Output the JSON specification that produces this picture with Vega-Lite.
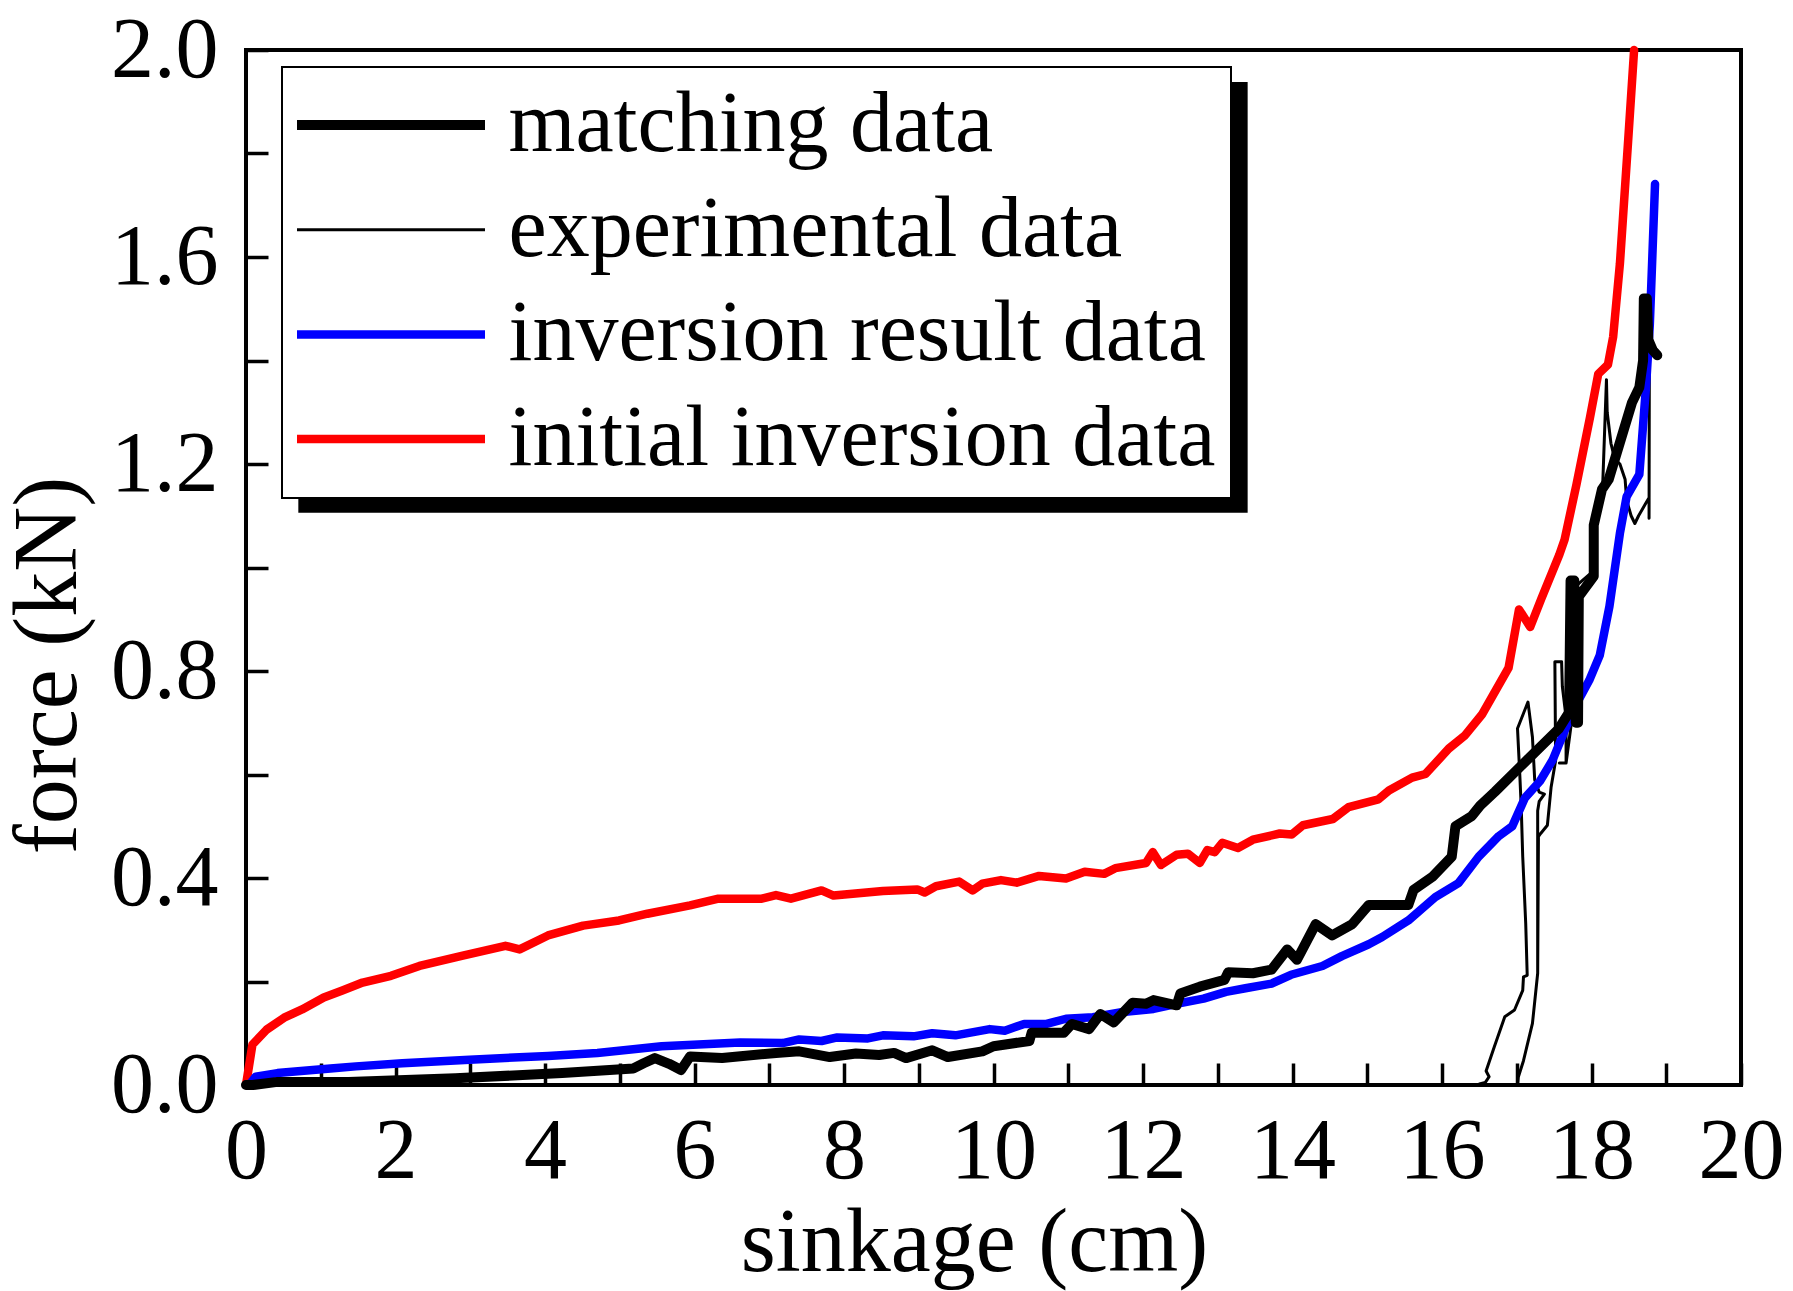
{
  "$schema": "https://vega.github.io/schema/vega-lite/v6.json",
  "description": "force vs sinkage: matching, experimental, inversion result and initial inversion data",
  "width": 1495,
  "height": 1035,
  "autosize": {"type": "none"},
  "padding": {"left": 246, "top": 50, "right": 52, "bottom": 206},
  "background": "white",
  "config": {
    "font": "Liberation Serif",
    "view": {"stroke": "black", "strokeWidth": 4},
    "axis": {
      "labelFont": "Liberation Serif", "labelFontSize": 86, "labelColor": "black",
      "titleFont": "Liberation Serif", "titleFontSize": 90, "titleFontWeight": "normal", "titleColor": "black",
      "tickColor": "black", "tickWidth": 3.5, "tickSize": -22,
      "grid": false, "domain": false, "labelFlush": false, "labelOverlap": false
    },
    "legend": {
      "fillColor": "white", "strokeColor": "black", "strokeWidth": 2,
      "padding": 15, "rowPadding": 18.7, "clipHeight": 86,
      "labelFont": "Liberation Serif", "labelFontSize": 86, "labelColor": "black", "labelLimit": 2000,
      "labelOffset": 18.5, "symbolType": "stroke", "symbolSize": 36864, "symbolOffset": -9
    }
  },
  "data": {
    "values": [
      {"s": "matching data", "x": 0, "y": 0},
      {"s": "matching data", "x": 0.09, "y": 0},
      {"s": "matching data", "x": 0.42, "y": 0.006},
      {"s": "matching data", "x": 1.37, "y": 0.006},
      {"s": "matching data", "x": 2.8, "y": 0.013},
      {"s": "matching data", "x": 4.23, "y": 0.023},
      {"s": "matching data", "x": 5.18, "y": 0.032},
      {"s": "matching data", "x": 5.32, "y": 0.042},
      {"s": "matching data", "x": 5.47, "y": 0.052},
      {"s": "matching data", "x": 5.66, "y": 0.041},
      {"s": "matching data", "x": 5.82, "y": 0.029},
      {"s": "matching data", "x": 5.94, "y": 0.055},
      {"s": "matching data", "x": 6.37, "y": 0.052},
      {"s": "matching data", "x": 7.09, "y": 0.062},
      {"s": "matching data", "x": 7.4, "y": 0.065},
      {"s": "matching data", "x": 7.81, "y": 0.054},
      {"s": "matching data", "x": 8.16, "y": 0.061},
      {"s": "matching data", "x": 8.47, "y": 0.058},
      {"s": "matching data", "x": 8.67, "y": 0.062},
      {"s": "matching data", "x": 8.83, "y": 0.052},
      {"s": "matching data", "x": 9.18, "y": 0.067},
      {"s": "matching data", "x": 9.39, "y": 0.054},
      {"s": "matching data", "x": 9.85, "y": 0.065},
      {"s": "matching data", "x": 10.0, "y": 0.075},
      {"s": "matching data", "x": 10.48, "y": 0.085},
      {"s": "matching data", "x": 10.51, "y": 0.101},
      {"s": "matching data", "x": 10.94, "y": 0.101},
      {"s": "matching data", "x": 11.05, "y": 0.118},
      {"s": "matching data", "x": 11.28, "y": 0.108},
      {"s": "matching data", "x": 11.43, "y": 0.137},
      {"s": "matching data", "x": 11.61, "y": 0.121},
      {"s": "matching data", "x": 11.86, "y": 0.159},
      {"s": "matching data", "x": 12.04, "y": 0.157},
      {"s": "matching data", "x": 12.14, "y": 0.164},
      {"s": "matching data", "x": 12.45, "y": 0.154},
      {"s": "matching data", "x": 12.5, "y": 0.177},
      {"s": "matching data", "x": 12.76, "y": 0.19},
      {"s": "matching data", "x": 13.09, "y": 0.203},
      {"s": "matching data", "x": 13.14, "y": 0.218},
      {"s": "matching data", "x": 13.47, "y": 0.216},
      {"s": "matching data", "x": 13.72, "y": 0.223},
      {"s": "matching data", "x": 13.93, "y": 0.262},
      {"s": "matching data", "x": 14.06, "y": 0.242},
      {"s": "matching data", "x": 14.31, "y": 0.311},
      {"s": "matching data", "x": 14.53, "y": 0.289},
      {"s": "matching data", "x": 14.8, "y": 0.311},
      {"s": "matching data", "x": 15.02, "y": 0.348},
      {"s": "matching data", "x": 15.55, "y": 0.348},
      {"s": "matching data", "x": 15.62, "y": 0.377},
      {"s": "matching data", "x": 15.87, "y": 0.402},
      {"s": "matching data", "x": 16.13, "y": 0.441},
      {"s": "matching data", "x": 16.18, "y": 0.5},
      {"s": "matching data", "x": 16.4, "y": 0.52},
      {"s": "matching data", "x": 16.51, "y": 0.54},
      {"s": "matching data", "x": 16.71, "y": 0.567},
      {"s": "matching data", "x": 17.56, "y": 0.688},
      {"s": "matching data", "x": 17.7, "y": 0.72},
      {"s": "matching data", "x": 17.72, "y": 0.975},
      {"s": "matching data", "x": 17.77, "y": 0.975},
      {"s": "matching data", "x": 17.79, "y": 0.7},
      {"s": "matching data", "x": 17.82, "y": 0.7},
      {"s": "matching data", "x": 17.83, "y": 0.944},
      {"s": "matching data", "x": 18.03, "y": 0.983},
      {"s": "matching data", "x": 18.03, "y": 1.082},
      {"s": "matching data", "x": 18.14, "y": 1.151},
      {"s": "matching data", "x": 18.23, "y": 1.17},
      {"s": "matching data", "x": 18.54, "y": 1.318},
      {"s": "matching data", "x": 18.64, "y": 1.348},
      {"s": "matching data", "x": 18.69, "y": 1.4},
      {"s": "matching data", "x": 18.7, "y": 1.52},
      {"s": "matching data", "x": 18.74, "y": 1.52},
      {"s": "matching data", "x": 18.76, "y": 1.44},
      {"s": "matching data", "x": 18.82, "y": 1.42},
      {"s": "matching data", "x": 18.88, "y": 1.41},

      {"s": "experimental data", "x": 16.5, "y": 0.002},
      {"s": "experimental data", "x": 16.58, "y": 0.005},
      {"s": "experimental data", "x": 16.63, "y": 0.016},
      {"s": "experimental data", "x": 16.59, "y": 0.027},
      {"s": "experimental data", "x": 16.7, "y": 0.074},
      {"s": "experimental data", "x": 16.84, "y": 0.132},
      {"s": "experimental data", "x": 16.97, "y": 0.145},
      {"s": "experimental data", "x": 17.08, "y": 0.183},
      {"s": "experimental data", "x": 17.09, "y": 0.209},
      {"s": "experimental data", "x": 17.14, "y": 0.212},
      {"s": "experimental data", "x": 17.12, "y": 0.312},
      {"s": "experimental data", "x": 17.08, "y": 0.441},
      {"s": "experimental data", "x": 17.06, "y": 0.537},
      {"s": "experimental data", "x": 17.04, "y": 0.602},
      {"s": "experimental data", "x": 17.01, "y": 0.689},
      {"s": "experimental data", "x": 17.15, "y": 0.74},
      {"s": "experimental data", "x": 17.21, "y": 0.672},
      {"s": "experimental data", "x": 17.24, "y": 0.59},
      {"s": "experimental data", "x": 17.3, "y": 0.566},
      {"s": "experimental data", "x": 17.37, "y": 0.562},
      {"s": "experimental data", "x": 17.3, "y": 0.548},
      {"s": "experimental data", "x": 17.28, "y": 0.53},
      {"s": "experimental data", "x": 17.28, "y": 0.216},
      {"s": "experimental data", "x": 17.21, "y": 0.119},
      {"s": "experimental data", "x": 17.09, "y": 0.047},
      {"s": "experimental data", "x": 17.02, "y": 0.015},
      {"s": "experimental data", "x": 17.01, "y": 0},
      {"s": "experimental data", "x": 17.02, "y": 0.015},
      {"s": "experimental data", "x": 17.09, "y": 0.047},
      {"s": "experimental data", "x": 17.21, "y": 0.119},
      {"s": "experimental data", "x": 17.28, "y": 0.216},
      {"s": "experimental data", "x": 17.29, "y": 0.48},
      {"s": "experimental data", "x": 17.32, "y": 0.486},
      {"s": "experimental data", "x": 17.41, "y": 0.502},
      {"s": "experimental data", "x": 17.46, "y": 0.576},
      {"s": "experimental data", "x": 17.52, "y": 0.627},
      {"s": "experimental data", "x": 17.51, "y": 0.818},
      {"s": "experimental data", "x": 17.6, "y": 0.818},
      {"s": "experimental data", "x": 17.61, "y": 0.77},
      {"s": "experimental data", "x": 17.66, "y": 0.71},
      {"s": "experimental data", "x": 17.66, "y": 0.622},
      {"s": "experimental data", "x": 17.57, "y": 0.622},
      {"s": "experimental data", "x": 17.66, "y": 0.622},
      {"s": "experimental data", "x": 17.75, "y": 0.72},
      {"s": "experimental data", "x": 17.76, "y": 0.96},
      {"s": "experimental data", "x": 18.0, "y": 0.99},
      {"s": "experimental data", "x": 18.03, "y": 1.08},
      {"s": "experimental data", "x": 18.15, "y": 1.16},
      {"s": "experimental data", "x": 18.2, "y": 1.363},
      {"s": "experimental data", "x": 18.21, "y": 1.3},
      {"s": "experimental data", "x": 18.26, "y": 1.24},
      {"s": "experimental data", "x": 18.31, "y": 1.21},
      {"s": "experimental data", "x": 18.38, "y": 1.2},
      {"s": "experimental data", "x": 18.45, "y": 1.17},
      {"s": "experimental data", "x": 18.47, "y": 1.13},
      {"s": "experimental data", "x": 18.53, "y": 1.1},
      {"s": "experimental data", "x": 18.58, "y": 1.085},
      {"s": "experimental data", "x": 18.63, "y": 1.1},
      {"s": "experimental data", "x": 18.73, "y": 1.125},
      {"s": "experimental data", "x": 18.77, "y": 1.135},
      {"s": "experimental data", "x": 18.77, "y": 1.095},
      {"s": "experimental data", "x": 18.775, "y": 1.5},

      {"s": "inversion result data", "x": 0, "y": 0},
      {"s": "inversion result data", "x": 0.06, "y": 0.003},
      {"s": "inversion result data", "x": 0.13, "y": 0.016},
      {"s": "inversion result data", "x": 0.42, "y": 0.023},
      {"s": "inversion result data", "x": 1.13, "y": 0.032},
      {"s": "inversion result data", "x": 1.47, "y": 0.036},
      {"s": "inversion result data", "x": 2.09, "y": 0.042},
      {"s": "inversion result data", "x": 2.99, "y": 0.049},
      {"s": "inversion result data", "x": 4.04, "y": 0.056},
      {"s": "inversion result data", "x": 4.7, "y": 0.062},
      {"s": "inversion result data", "x": 5.18, "y": 0.069},
      {"s": "inversion result data", "x": 5.56, "y": 0.075},
      {"s": "inversion result data", "x": 6.61, "y": 0.082},
      {"s": "inversion result data", "x": 7.18, "y": 0.081},
      {"s": "inversion result data", "x": 7.4, "y": 0.088},
      {"s": "inversion result data", "x": 7.7, "y": 0.085},
      {"s": "inversion result data", "x": 7.91, "y": 0.092},
      {"s": "inversion result data", "x": 8.32, "y": 0.09},
      {"s": "inversion result data", "x": 8.52, "y": 0.096},
      {"s": "inversion result data", "x": 8.93, "y": 0.094},
      {"s": "inversion result data", "x": 9.18, "y": 0.1},
      {"s": "inversion result data", "x": 9.49, "y": 0.096},
      {"s": "inversion result data", "x": 9.95, "y": 0.108},
      {"s": "inversion result data", "x": 10.15, "y": 0.105},
      {"s": "inversion result data", "x": 10.41, "y": 0.118},
      {"s": "inversion result data", "x": 10.71, "y": 0.118},
      {"s": "inversion result data", "x": 10.97, "y": 0.128},
      {"s": "inversion result data", "x": 11.33, "y": 0.131},
      {"s": "inversion result data", "x": 11.73, "y": 0.141},
      {"s": "inversion result data", "x": 12.14, "y": 0.147},
      {"s": "inversion result data", "x": 12.45, "y": 0.157},
      {"s": "inversion result data", "x": 12.81, "y": 0.167},
      {"s": "inversion result data", "x": 13.11, "y": 0.18},
      {"s": "inversion result data", "x": 13.37, "y": 0.187},
      {"s": "inversion result data", "x": 13.72, "y": 0.196},
      {"s": "inversion result data", "x": 13.98, "y": 0.213},
      {"s": "inversion result data", "x": 14.4, "y": 0.23},
      {"s": "inversion result data", "x": 14.66, "y": 0.249},
      {"s": "inversion result data", "x": 15.02, "y": 0.272},
      {"s": "inversion result data", "x": 15.2, "y": 0.286},
      {"s": "inversion result data", "x": 15.55, "y": 0.318},
      {"s": "inversion result data", "x": 15.91, "y": 0.363},
      {"s": "inversion result data", "x": 16.22, "y": 0.39},
      {"s": "inversion result data", "x": 16.49, "y": 0.441},
      {"s": "inversion result data", "x": 16.76, "y": 0.481},
      {"s": "inversion result data", "x": 16.94, "y": 0.5},
      {"s": "inversion result data", "x": 17.11, "y": 0.555},
      {"s": "inversion result data", "x": 17.31, "y": 0.587},
      {"s": "inversion result data", "x": 17.48, "y": 0.628},
      {"s": "inversion result data", "x": 17.75, "y": 0.723},
      {"s": "inversion result data", "x": 17.97, "y": 0.782},
      {"s": "inversion result data", "x": 18.11, "y": 0.83},
      {"s": "inversion result data", "x": 18.24, "y": 0.925},
      {"s": "inversion result data", "x": 18.38, "y": 1.066},
      {"s": "inversion result data", "x": 18.47, "y": 1.137},
      {"s": "inversion result data", "x": 18.64, "y": 1.18},
      {"s": "inversion result data", "x": 18.73, "y": 1.351},
      {"s": "inversion result data", "x": 18.78, "y": 1.469},
      {"s": "inversion result data", "x": 18.85, "y": 1.741},

      {"s": "initial inversion data", "x": 0, "y": 0},
      {"s": "initial inversion data", "x": 0.086, "y": 0.078},
      {"s": "initial inversion data", "x": 0.276, "y": 0.107},
      {"s": "initial inversion data", "x": 0.51, "y": 0.13},
      {"s": "initial inversion data", "x": 0.75, "y": 0.146},
      {"s": "initial inversion data", "x": 1.04, "y": 0.169},
      {"s": "initial inversion data", "x": 1.28, "y": 0.182},
      {"s": "initial inversion data", "x": 1.56, "y": 0.198},
      {"s": "initial inversion data", "x": 1.94, "y": 0.211},
      {"s": "initial inversion data", "x": 2.32, "y": 0.23},
      {"s": "initial inversion data", "x": 2.9, "y": 0.25},
      {"s": "initial inversion data", "x": 3.47, "y": 0.269},
      {"s": "initial inversion data", "x": 3.66, "y": 0.262},
      {"s": "initial inversion data", "x": 4.04, "y": 0.289},
      {"s": "initial inversion data", "x": 4.51, "y": 0.308},
      {"s": "initial inversion data", "x": 4.99, "y": 0.318},
      {"s": "initial inversion data", "x": 5.37, "y": 0.331},
      {"s": "initial inversion data", "x": 5.94, "y": 0.347},
      {"s": "initial inversion data", "x": 6.32, "y": 0.36},
      {"s": "initial inversion data", "x": 6.9, "y": 0.36},
      {"s": "initial inversion data", "x": 7.09, "y": 0.367},
      {"s": "initial inversion data", "x": 7.29, "y": 0.36},
      {"s": "initial inversion data", "x": 7.7, "y": 0.376},
      {"s": "initial inversion data", "x": 7.86, "y": 0.366},
      {"s": "initial inversion data", "x": 8.52, "y": 0.375},
      {"s": "initial inversion data", "x": 8.98, "y": 0.378},
      {"s": "initial inversion data", "x": 9.08, "y": 0.372},
      {"s": "initial inversion data", "x": 9.23, "y": 0.384},
      {"s": "initial inversion data", "x": 9.54, "y": 0.393},
      {"s": "initial inversion data", "x": 9.72, "y": 0.376},
      {"s": "initial inversion data", "x": 9.85, "y": 0.389},
      {"s": "initial inversion data", "x": 10.1, "y": 0.396},
      {"s": "initial inversion data", "x": 10.31, "y": 0.391},
      {"s": "initial inversion data", "x": 10.61, "y": 0.404},
      {"s": "initial inversion data", "x": 10.97, "y": 0.399},
      {"s": "initial inversion data", "x": 11.22, "y": 0.412},
      {"s": "initial inversion data", "x": 11.48, "y": 0.408},
      {"s": "initial inversion data", "x": 11.63, "y": 0.419},
      {"s": "initial inversion data", "x": 12.04, "y": 0.429},
      {"s": "initial inversion data", "x": 12.13, "y": 0.45},
      {"s": "initial inversion data", "x": 12.24, "y": 0.425},
      {"s": "initial inversion data", "x": 12.45, "y": 0.445},
      {"s": "initial inversion data", "x": 12.6, "y": 0.447},
      {"s": "initial inversion data", "x": 12.76, "y": 0.429},
      {"s": "initial inversion data", "x": 12.86, "y": 0.454},
      {"s": "initial inversion data", "x": 12.96, "y": 0.45},
      {"s": "initial inversion data", "x": 13.06, "y": 0.468},
      {"s": "initial inversion data", "x": 13.27, "y": 0.458},
      {"s": "initial inversion data", "x": 13.47, "y": 0.474},
      {"s": "initial inversion data", "x": 13.83, "y": 0.486},
      {"s": "initial inversion data", "x": 13.99, "y": 0.484},
      {"s": "initial inversion data", "x": 14.14, "y": 0.502},
      {"s": "initial inversion data", "x": 14.54, "y": 0.514},
      {"s": "initial inversion data", "x": 14.75, "y": 0.537},
      {"s": "initial inversion data", "x": 15.15, "y": 0.552},
      {"s": "initial inversion data", "x": 15.29, "y": 0.569},
      {"s": "initial inversion data", "x": 15.6, "y": 0.594},
      {"s": "initial inversion data", "x": 15.78, "y": 0.601},
      {"s": "initial inversion data", "x": 16.09, "y": 0.65},
      {"s": "initial inversion data", "x": 16.31, "y": 0.676},
      {"s": "initial inversion data", "x": 16.54, "y": 0.717},
      {"s": "initial inversion data", "x": 16.89, "y": 0.806},
      {"s": "initial inversion data", "x": 17.03, "y": 0.919},
      {"s": "initial inversion data", "x": 17.18, "y": 0.885},
      {"s": "initial inversion data", "x": 17.33, "y": 0.94},
      {"s": "initial inversion data", "x": 17.57, "y": 1.025},
      {"s": "initial inversion data", "x": 17.64, "y": 1.054},
      {"s": "initial inversion data", "x": 17.8, "y": 1.161},
      {"s": "initial inversion data", "x": 17.98, "y": 1.29},
      {"s": "initial inversion data", "x": 18.09, "y": 1.374},
      {"s": "initial inversion data", "x": 18.22, "y": 1.392},
      {"s": "initial inversion data", "x": 18.29, "y": 1.446},
      {"s": "initial inversion data", "x": 18.38, "y": 1.587},
      {"s": "initial inversion data", "x": 18.49, "y": 1.824},
      {"s": "initial inversion data", "x": 18.57, "y": 2.0}
    ]
  },
  "layer": [
    {
      "data": {"values": [{}]},
      "mark": {"type": "rect", "color": "black"},
      "encoding": {
        "x": {"datum": 0.7, "type": "quantitative", "scale": {"domain": [0, 20], "nice": false}, "axis": null},
        "x2": {"datum": 13.4},
        "y": {"datum": 1.938, "type": "quantitative", "scale": {"domain": [0, 2], "nice": false}, "axis": null},
        "y2": {"datum": 1.106}
      }
    },
    {
      "encoding": {
        "x": {
          "field": "x", "type": "quantitative",
          "scale": {"domain": [0, 20], "nice": false},
          "axis": {
            "title": "sinkage (cm)",
            "values": [0, 1, 2, 3, 4, 5, 6, 7, 8, 9, 10, 11, 12, 13, 14, 15, 16, 17, 18, 19, 20],
            "format": "d",
            "labelExpr": "datum.value % 2 === 0 ? datum.label : ''",
            "labelPadding": 46,
            "titlePadding": 5,
            "titleX": 728,
            "encode": {"ticks": {"update": {"y2": {"signal": "datum.value % 2 === 0 ? -22 : -10"}}}}
          }
        },
        "y": {
          "field": "y", "type": "quantitative",
          "scale": {"domain": [0, 2], "nice": false},
          "axis": {
            "title": "force (kN)",
            "values": [0, 0.2, 0.4, 0.6, 0.8, 1, 1.2, 1.4, 1.6, 1.8, 2],
            "format": ".1f",
            "labelExpr": "round(datum.value * 10) % 4 === 0 ? datum.label : ''",
            "labelPadding": 50,
            "titlePadding": 16,
            "titleY": 615,
            "encode": {"ticks": {"update": {"x2": {"signal": "round(datum.value * 10) % 4 === 0 ? 22 : 10"}}}}
          }
        },
        "color": {
          "field": "s", "type": "nominal",
          "scale": {
            "domain": ["matching data", "experimental data", "inversion result data", "initial inversion data"],
            "range": ["#000000", "#000000", "#0000ff", "#ff0000"]
          },
          "legend": {"title": null, "orient": "none", "legendX": 36, "legendY": 17}
        },
        "strokeWidth": {
          "field": "s", "type": "nominal",
          "scale": {
            "type": "ordinal",
            "domain": ["matching data", "experimental data", "inversion result data", "initial inversion data"],
            "range": [10, 3, 8.5, 8.5]
          },
          "legend": {"title": null, "orient": "none", "legendX": 36, "legendY": 17}
        },
        "order": {"value": null}
      },
      "layer": [
        {
          "transform": [{"filter": "datum.s === 'initial inversion data'"}],
          "mark": {"type": "line", "strokeJoin": "round", "strokeCap": "round"}
        },
        {
          "transform": [{"filter": "datum.s === 'experimental data'"}],
          "mark": {"type": "line", "strokeJoin": "round", "strokeCap": "round"}
        },
        {
          "transform": [{"filter": "datum.s === 'inversion result data'"}],
          "mark": {"type": "line", "strokeJoin": "round", "strokeCap": "round"}
        },
        {
          "transform": [{"filter": "datum.s === 'matching data'"}],
          "mark": {"type": "line", "strokeJoin": "round", "strokeCap": "round"}
        }
      ]
    }
  ],
  "resolve": {"axis": {"x": "independent", "y": "independent"}}
}
